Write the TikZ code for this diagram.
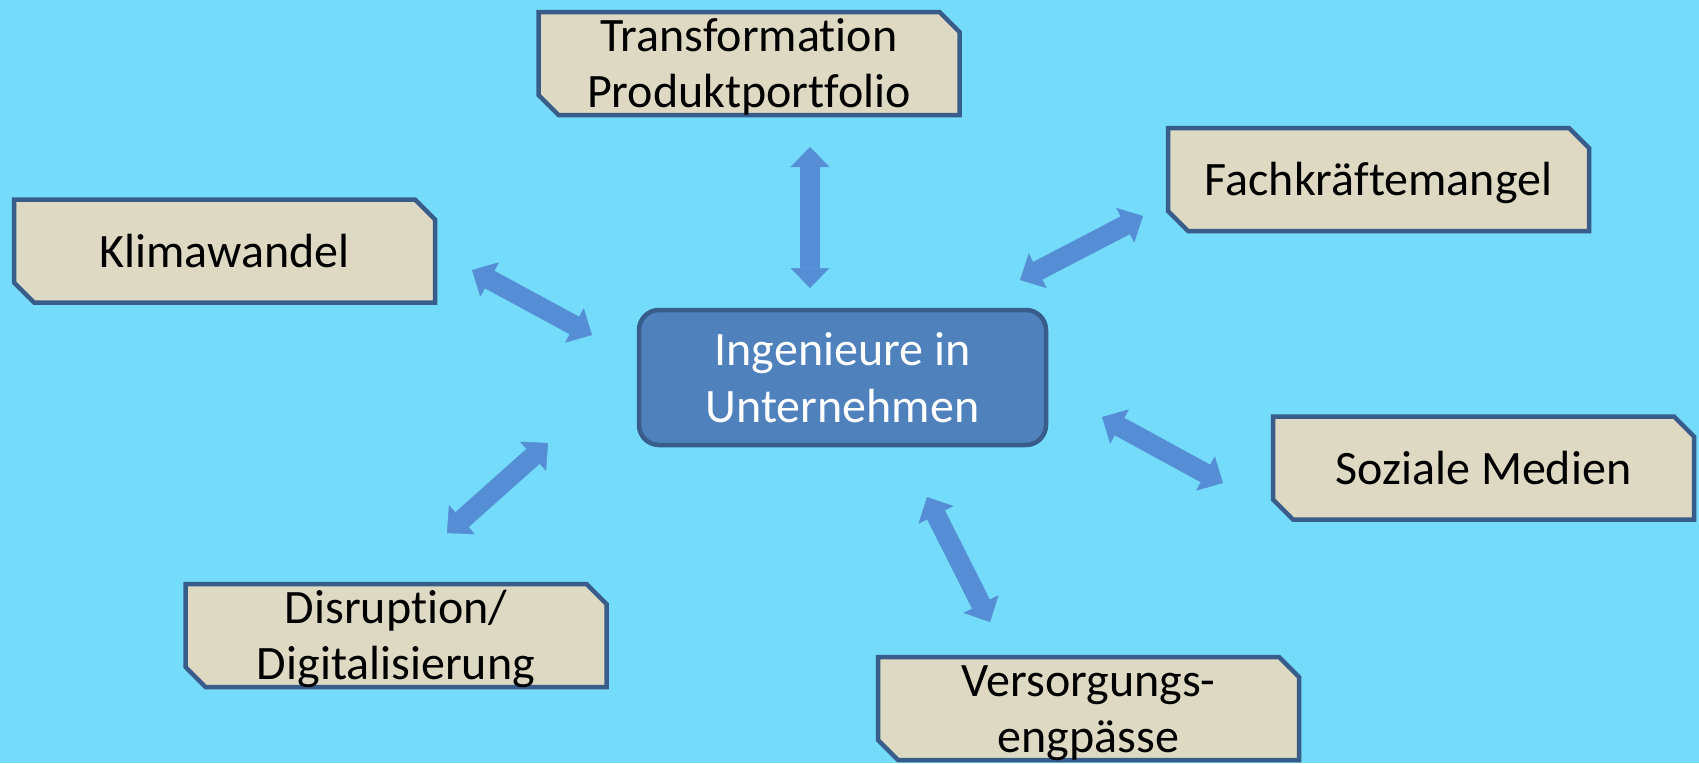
\documentclass[tikz,border=0pt]{standalone}
\usepackage{fontspec}
\setmainfont[Ligatures=NoCommon]{Carlito}
\usetikzlibrary{shapes.misc,arrows.meta}
\definecolor{bgcol}{HTML}{75DBFA}
\definecolor{topicfill}{HTML}{DDD9C3}
\definecolor{edgecol}{HTML}{385D8A}
\definecolor{corefill}{HTML}{4F81BD}
\definecolor{arrowcol}{HTML}{558ED5}
\newcommand\twolines[2]{\begin{tabular}[t]{@{}c@{}}#1\\#2\end{tabular}}
\begin{document}
\begin{tikzpicture}[x=1pt,y=-1pt,
  topic/.style={chamfered rectangle,
    chamfered rectangle corners={north east,south west},
    chamfered rectangle xsep=10pt, chamfered rectangle ysep=10pt,
    draw=edgecol, line width=4.5pt, fill=topicfill,
    minimum width=421pt, minimum height=103pt, inner sep=0pt,
    font=\fontsize{48}{56}\selectfont, text=black},
  corebox/.style={rectangle, rounded corners=20pt,
    draw=edgecol, line width=4.5pt, fill=corefill,
    minimum width=407pt, minimum height=135pt, inner sep=0pt,
    font=\fontsize{48}{57}\selectfont, text=white},
  oneline/.style={text height=40pt, text depth=8pt},
  twoline/.style={text height=20pt, text depth=44pt},
  link/.style={color=arrowcol, line width=20pt,
    {Triangle[width=39pt,length=20pt,line width=0.5pt]}-{Triangle[width=39pt,length=20pt,line width=0.5pt]}}]
\fill[bgcol] (0,0) rectangle (1699,763);
\useasboundingbox (0,0) rectangle (1699,763);

\node[topic,twoline] (trans) at (749,63.5) {\twolines{Transformation}{Produktportfolio}};
\node[topic,oneline] (klima) at (224.5,251) {Klimawandel};
\node[topic,oneline] (fach) at (1378.5,179.5) {Fachkräftemangel};
\node[topic,oneline] (sozial) at (1483.5,468) {Soziale Medien};
\node[topic,twoline] (disr) at (396,635.5) {\twolines{Disruption/}{Digitalisierung}};
\node[topic,twoline] (vers) at (1088.5,708.5) {\twolines{Versorgungs-}{engpässe}};
\node[corebox,twoline] (ing) at (842.5,377.5) {\twolines{Ingenieure in}{Unternehmen}};

\coordinate (transA) at (810,147);
\coordinate (transB) at (810,288);
\coordinate (fachA) at (1143,216);
\coordinate (fachB) at (1020,280);
\coordinate (sozA) at (1102,417);
\coordinate (sozB) at (1223,483);
\coordinate (versA) at (927,497);
\coordinate (versB) at (990,622);
\coordinate (disrA) at (548,443);
\coordinate (disrB) at (447,533);
\coordinate (klimaA) at (472,270);
\coordinate (klimaB) at (592,335);

\draw[link] (transA) -- (transB);
\draw[link] (fachA) -- (fachB);
\draw[link] (sozA) -- (sozB);
\draw[link] (versA) -- (versB);
\draw[link] (disrA) -- (disrB);
\draw[link] (klimaA) -- (klimaB);
\end{tikzpicture}
\end{document}
